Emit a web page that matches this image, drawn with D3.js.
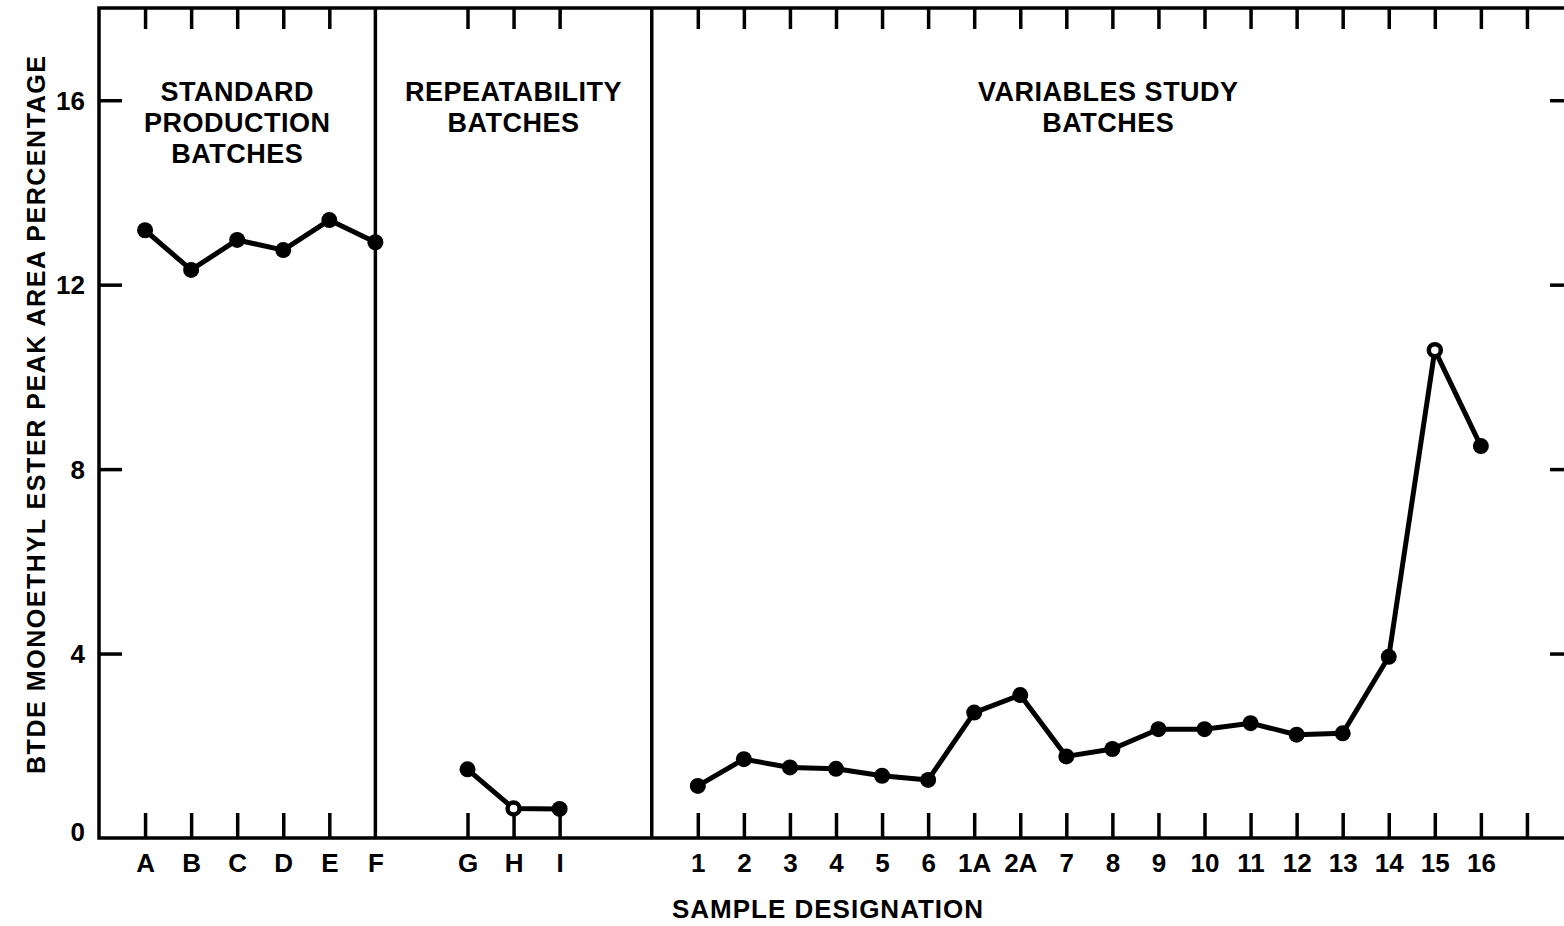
<!DOCTYPE html>
<html>
<head>
<meta charset="utf-8">
<script src="https://cdn.jsdelivr.net/npm/d3@7"></script>
<style>
  body { margin: 0; background: #fff; }
  text { font-family: "Liberation Sans", Arial, sans-serif; font-weight: 700; fill: #000; }
</style>
</head>
<body>
<svg id="chart" width="1564" height="926"></svg>
<script>
// sample groups: labels, slot positions along the x axis, and peak area values
const standardLabels = ["A", "B", "C", "D", "E", "F"];
const standardSlots = [1, 2, 3, 4, 5, 6];
const standardValues = [13.18, 12.32, 12.97, 12.75, 13.40, 12.92];

const repeatLabels = ["G", "H", "I"];
const repeatSlots = [8, 9, 10];
const repeatValues = [1.49, 0.64, 0.63];

const variableLabels = ["1", "2", "3", "4", "5", "6", "1A", "2A", "7", "8", "9", "10", "11", "12", "13", "14", "15", "16"];
const variableSlots = [13, 14, 15, 16, 17, 18, 19, 20, 21, 22, 23, 24, 25, 26, 27, 28, 29, 30];
const variableValues = [1.13, 1.71, 1.53, 1.50, 1.35, 1.26, 2.72, 3.10, 1.77, 1.93, 2.36, 2.36, 2.49, 2.24, 2.27, 3.93, 10.58, 8.50];

// points drawn as open circles in the original
const openPoints = ["H", "15"];

const yTicks = [0, 4, 8, 12, 16];
const dividerSlots = [6, 12];
const extraTickSlots = [31];

const sectionTitles = [
    { lines: ["STANDARD", "PRODUCTION", "BATCHES"], from: 0, to: 6 },
    { lines: ["REPEATABILITY", "BATCHES"], from: 6, to: 12 },
    { lines: ["VARIABLES STUDY", "BATCHES"], from: 12, to: 32 }
];

const svg = d3.select("#chart");

const plotLeft = 99, plotRight = 1573, plotTop = 8, plotBottom = 838;

const x = d3.scaleLinear().domain([0, 32]).range([plotLeft, plotRight]);
const y = d3.scaleLinear().domain([0, 18]).range([plotBottom, plotTop]);

const labelOf = new Map();
standardSlots.forEach((s, i) => labelOf.set(s, standardLabels[i]));
repeatSlots.forEach((s, i) => labelOf.set(s, repeatLabels[i]));
variableSlots.forEach((s, i) => labelOf.set(s, variableLabels[i]));

const tickSlots = standardSlots.concat(repeatSlots, variableSlots, extraTickSlots)
    .filter(s => !dividerSlots.includes(s));
const labelSlots = standardSlots.concat(repeatSlots, variableSlots);

// bottom axis: inward ticks, labels below
const xAxisG = svg.append("g")
    .attr("transform", `translate(0,${plotBottom})`)
    .call(d3.axisBottom(x).tickValues(tickSlots).tickSizeInner(-25).tickSizeOuter(0).tickFormat(() => ""));
xAxisG.select(".domain").remove();
xAxisG.selectAll("line").attr("stroke", "#000").attr("stroke-width", 3.5);

const xLabelG = svg.append("g")
    .attr("transform", `translate(0,${plotBottom})`)
    .call(d3.axisBottom(x).tickValues(labelSlots).tickSize(0).tickPadding(16).tickFormat(d => labelOf.get(d)));
xLabelG.select(".domain").remove();
xLabelG.selectAll("text").style("font-size", "26px").style("font-family", "Liberation Sans, Arial, sans-serif").style("font-weight", 700);

// top axis: ticks only
const topAxisG = svg.append("g")
    .attr("transform", `translate(0,${plotTop})`)
    .call(d3.axisTop(x).tickValues(tickSlots).tickSizeInner(-21).tickSizeOuter(0).tickFormat(() => ""));
topAxisG.select(".domain").remove();
topAxisG.selectAll("line").attr("stroke", "#000").attr("stroke-width", 3.5);

// left axis
const yAxisG = svg.append("g")
    .attr("transform", `translate(${plotLeft},0)`)
    .call(d3.axisLeft(y).tickValues(yTicks).tickSizeInner(-23).tickSizeOuter(0).tickPadding(14));
yAxisG.select(".domain").remove();
yAxisG.selectAll("line").attr("stroke", "#000").attr("stroke-width", 3.5)
    .filter(d => d === 0).remove();
yAxisG.selectAll("text").style("font-size", "26px").style("font-family", "Liberation Sans, Arial, sans-serif").style("font-weight", 700)
    .attr("dy", d => d === 0 ? "0.1em" : "0.35em");

// right axis: ticks only
const rightAxisG = svg.append("g")
    .attr("transform", `translate(${plotRight},0)`)
    .call(d3.axisRight(y).tickValues(yTicks.filter(d => d > 0)).tickSizeInner(-23).tickSizeOuter(0).tickFormat(() => ""));
rightAxisG.select(".domain").remove();
rightAxisG.selectAll("line").attr("stroke", "#000").attr("stroke-width", 3.5);

// frame
svg.append("path")
    .attr("d", `M${plotRight},${plotTop}H${plotLeft}V${plotBottom}H${plotRight}`)
    .attr("fill", "none")
    .attr("stroke", "#000")
    .attr("stroke-width", 3.5)
    .attr("stroke-linejoin", "miter");

svg.selectAll(".divider")
    .data(dividerSlots)
    .enter().append("line")
    .attr("class", "divider")
    .attr("x1", d => x(d)).attr("x2", d => x(d))
    .attr("y1", plotTop).attr("y2", plotBottom)
    .attr("stroke", "#000")
    .attr("stroke-width", 3.5);

// section titles
sectionTitles.forEach(t => {
    const cx = (x(t.from) + x(t.to)) / 2 - (t.from === 12 ? 4 : 0);
    const txt = svg.append("text")
        .attr("x", cx)
        .attr("y", 101)
        .attr("text-anchor", "middle")
        .style("font-size", "27px")
        .style("letter-spacing", "0.5px");
    t.lines.forEach((ln, i) => {
        txt.append("tspan")
            .attr("x", cx)
            .attr("dy", i === 0 ? 0 : 31)
            .text(ln);
    });
});

// axis titles
svg.append("text")
    .attr("x", 828)
    .attr("y", 918)
    .attr("text-anchor", "middle")
    .style("font-size", "26px")
    .style("letter-spacing", "1px")
    .text("SAMPLE DESIGNATION");

svg.append("text")
    .attr("transform", "translate(45,415) rotate(-90)")
    .attr("text-anchor", "middle")
    .attr("textLength", 718)
    .attr("lengthAdjust", "spacing")
    .style("font-size", "25px")
    .text("BTDE MONOETHYL ESTER PEAK AREA PERCENTAGE");

// data series
const groups = [
    { labels: standardLabels, slots: standardSlots, values: standardValues },
    { labels: repeatLabels, slots: repeatSlots, values: repeatValues },
    { labels: variableLabels, slots: variableSlots, values: variableValues }
];

const line = d3.line().x(d => x(d.slot)).y(d => y(d.value));

groups.forEach(g => {
    const pts = g.slots.map((s, i) => ({ slot: s, value: g.values[i], label: g.labels[i] }));

    svg.append("path")
        .datum(pts)
        .attr("d", line)
        .attr("fill", "none")
        .attr("stroke", "#000")
        .attr("stroke-width", 5)
        .attr("stroke-linejoin", "round");

    svg.selectAll(null)
        .data(pts)
        .enter().append("circle")
        .attr("cx", d => x(d.slot))
        .attr("cy", d => y(d.value))
        .attr("r", d => openPoints.includes(d.label) ? 6 : 8)
        .attr("fill", d => openPoints.includes(d.label) ? "#fff" : "#000")
        .attr("stroke", "#000")
        .attr("stroke-width", d => openPoints.includes(d.label) ? 4.5 : 0);
});
</script>
</body>
</html>
